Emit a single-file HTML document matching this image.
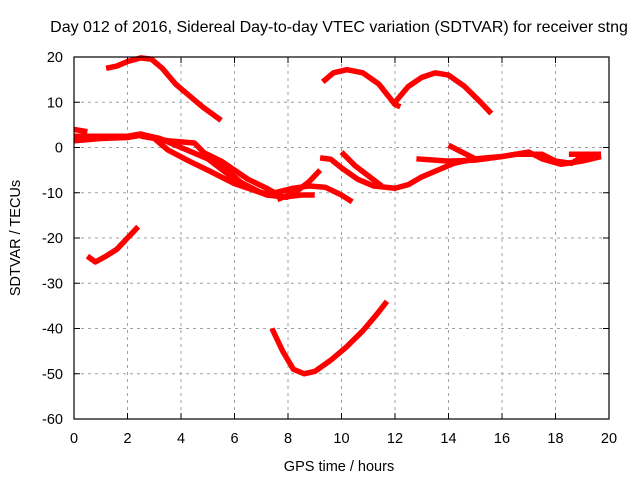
<!DOCTYPE html>
<html><head><meta charset="utf-8"><style>
body{margin:0;background:#fff}
svg text{font-family:"Liberation Sans",sans-serif;fill:#000}
</style></head><body>
<svg width="640" height="480">
<text x="339" y="32" font-size="16" text-anchor="middle">Day 012 of 2016, Sidereal Day-to-day VTEC variation (SDTVAR) for receiver stng</text>
<g id="grid"></g>
<g id="series"></g>
<rect x="74" y="57" width="535" height="362" fill="none" stroke="#000" stroke-width="1.2"/>
<g id="axes"></g>
<text x="339" y="471" font-size="14.5" text-anchor="middle">GPS time / hours</text>
<text x="0" y="0" font-size="14.5" text-anchor="middle" transform="translate(20,238) rotate(-90)">SDTVAR / TECUs</text>
</svg>
<script>
const xTicks=[0,2,4,6,8,10,12,14,16,18,20];
const yTicks=[20,10,0,-10,-20,-30,-40,-50,-60];
const s1=[[1.2,17.5],[1.6,18],[2,19],[2.5,19.8],[2.9,19.5],[3.3,17.5],[3.8,14],[4.3,11.5],[4.8,9],[5.5,6]];
const s2=[[0.5,-24],[0.8,-25.3],[1.2,-24],[1.6,-22.5],[2,-20],[2.4,-17.5]];
const s3=[[7.4,-40],[7.8,-45],[8.2,-49],[8.6,-50],[9,-49.5],[9.6,-47],[10.2,-44],[10.8,-40.5],[11.3,-37],[11.7,-34]];
const s4=[[9.3,14.5],[9.7,16.5],[10.2,17.2],[10.8,16.5],[11.4,14],[12,9.5],[12.2,9]];
const s5=[[12,10],[12.5,13.5],[13,15.5],[13.5,16.5],[14,16],[14.6,13.5],[15.2,10],[15.6,7.5]];
const s6=[[0,4],[0.5,3.5]];
const s7=[[0,1.5],[1,2],[2,2.2],[2.6,2.8],[3.2,2],[4,0],[5,-2.5],[6,-7],[7,-10],[7.8,-11],[8.5,-10.5],[9,-10.5]];
const s8=[[0,2.5],[1,2.5],[2,2.5],[2.5,3],[3,2],[3.5,-0.5],[4.3,-3],[5,-5],[6,-8],[7,-10],[8,-11]];
const s9=[[2.5,2.5],[3.5,1.5],[4.5,1],[5,-2],[5.6,-4.5],[6.4,-8.5],[7.2,-10.5],[8,-11]];
const s10=[[4.8,-1],[5.5,-3],[6.5,-7],[7.2,-9],[7.5,-10]];
const s11=[[7.5,-10],[8.2,-9],[8.8,-8.5],[9.4,-8.8],[10,-10.5],[10.4,-12]];
const s12=[[7.6,-11.5],[8.3,-9.8],[8.8,-7.5],[9.2,-5]];
const s13=[[9.2,-2.3],[9.6,-2.6],[10,-4.5],[10.6,-7],[11.2,-8.5],[12,-9],[12.5,-8.2],[13,-6.5],[13.6,-5],[14.2,-3.5],[15,-2.5],[16,-2],[17,-1],[17.5,-2.5],[18.2,-3.7],[19,-3],[19.7,-2]];
const s14=[[10,-1],[10.5,-4],[11.5,-8.5]];
const s15=[[12.8,-2.5],[14,-3],[15,-2.8],[16,-2],[16.5,-1.5],[17.5,-1.5],[18,-3],[18.6,-3.5],[19,-2],[19.7,-1.5]];
const s16=[[14,0.5],[14.5,-1],[15,-2.5]];
const s17=[[18.5,-1.5],[19.7,-1.5]];
const seriesList=[s1,s2,s3,s4,s5,s6,s7,s8,s9,s10,s11,s12,s13,s14,s15,s16,s17];
const X=v=>74+v*(535/20), Y=v=>57+(20-v)*(362/80);
const NS="http://www.w3.org/2000/svg";
const grid=document.getElementById('grid'),axes=document.getElementById('axes'),ser=document.getElementById('series');
function mk(tag,at,parent){const e=document.createElementNS(NS,tag);for(const k in at)e.setAttribute(k,at[k]);parent.appendChild(e);return e;}
xTicks.forEach(t=>{
 const x=X(t);
 if(t>0&&t<20){const g=mk('line',{x1:x,x2:x,y1:57,y2:419,stroke:'#a0a0a0','stroke-dasharray':'3,4'},grid);
 
 }
 mk('line',{x1:x,x2:x,y1:419,y2:413,stroke:'#000'},axes);mk('line',{x1:x,x2:x,y1:57,y2:63,stroke:'#000'},axes);
 const tx=mk('text',{x:x,y:443,'font-size':'14.5','text-anchor':'middle'},axes);tx.textContent=t;
 
 
});
yTicks.forEach(t=>{
 const y=Y(t);
 if(t<20&&t>-60){const g=mk('line',{x1:74,x2:609,y1:y,y2:y,stroke:'#a0a0a0','stroke-dasharray':'3,4'},grid);
 
 }
 mk('line',{x1:74,x2:80,y1:y,y2:y,stroke:'#000'},axes);mk('line',{x1:609,x2:603,y1:y,y2:y,stroke:'#000'},axes);
 const tx=mk('text',{x:63,y:y+5,'font-size':'14.5','text-anchor':'end'},axes);tx.textContent=t;
 
 
});
seriesList.forEach(s=>{
 const p=mk('polyline',{points:s.map(d=>X(d[0])+','+Y(d[1])).join(' '),fill:'none',stroke:'#ff0000','stroke-width':'5.5','stroke-linejoin':'round'},ser);
 
 
});
</script>
</body></html>
